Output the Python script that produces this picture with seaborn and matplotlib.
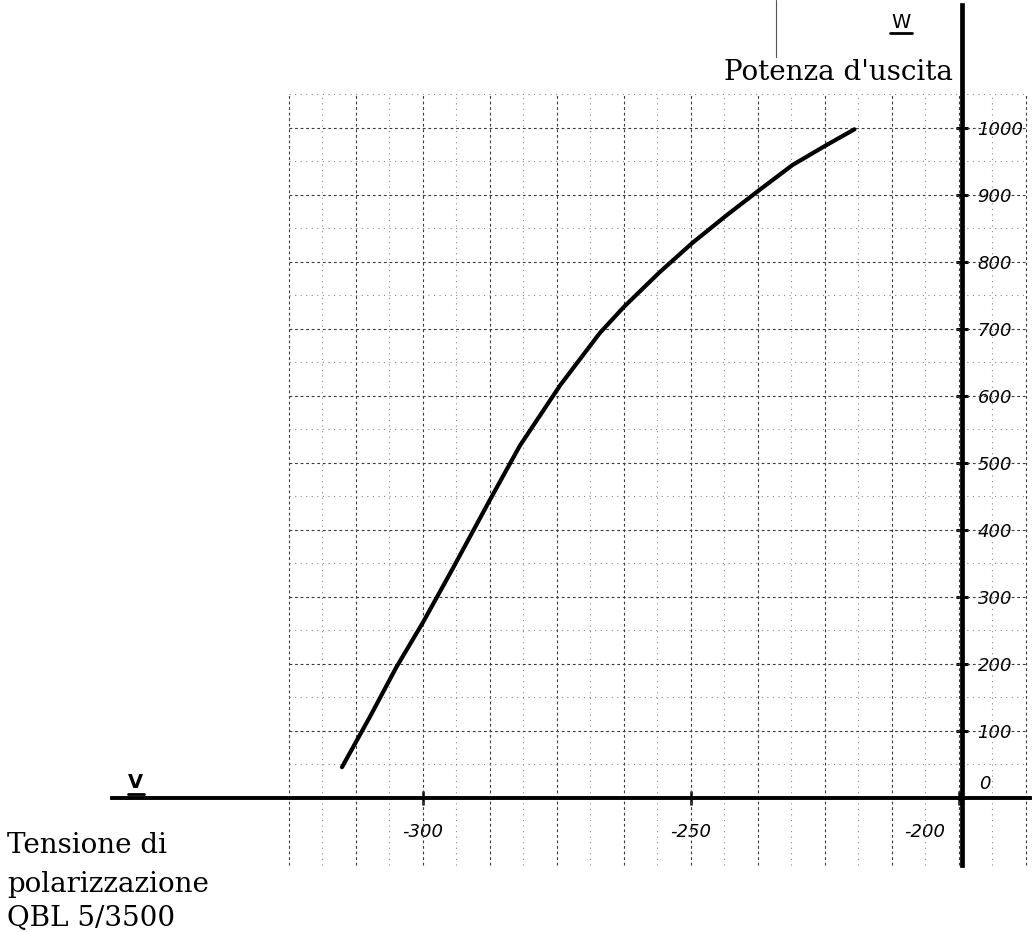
import matplotlib
matplotlib.use("Agg")
import numpy as np
import matplotlib.pyplot as plt
import matplotlib.transforms as mtransforms
from matplotlib.lines import Line2D
import seaborn as sns

# QBL 5/3500: output power vs grid bias
tensione = [-315.1, -309.9, -304.9, -300.0, -294.4, -287.5, -281.9, -274.4,
            -267.0, -262.5, -255.8, -249.8, -243.3, -237.3, -231.0, -224.6, -219.5]
potenza = [46, 121, 196, 262, 343, 445, 526, 616,
           694, 733, 785, 828, 870, 907, 945, 975, 998]

x_ticks = [-300, -250, -200]
x_labels = ['-300', '-250', '-200']
y_ticks = [0, 100, 200, 300, 400, 500, 600, 700, 800, 900, 1000]
y_labels = ['0', '100', '200', '300', '400', '500', '600', '700', '800', '900', '1000']

sns.set_style('white')
plt.rcParams['font.family'] = ['DejaVu Sans']
plt.rcParams['axes.unicode_minus'] = False
plt.rcParams['text.color'] = 'black'

fig = plt.figure(figsize=(10.34, 9.32), dpi=100)
ax = fig.add_axes([0, 0, 1, 1])
ax.set_xlim(-378.9, -186.0)
ax.set_ylim(-200, 1191)

# graph paper grid (12.5 V / 100 W heavy, half steps light)
gx = np.arange(-325, -187.4, 6.25)
gy = np.arange(50, 1051, 50)
gx_major = [v for i, v in enumerate(gx) if i % 2 == 0]
gx_minor = [v for i, v in enumerate(gx) if i % 2 == 1]
gy_major = [v for v in gy if v % 100 == 0]
gy_minor = [v for v in gy if v % 100 != 0]
ax.vlines(gx_major, -100, 1050, colors='#3a3a3a', linestyles=(0, (2.5, 2.5)), lw=0.8, zorder=1)
ax.vlines(gx_minor, -100, 1050, colors='#8a8a8a', linestyles=(0, (1.0, 4.0)), lw=0.8, zorder=1)
ax.hlines(gy_major, -325, -187.5, colors='#3a3a3a', linestyles=(0, (2.5, 2.5)), lw=0.8, zorder=1)
ax.hlines(gy_minor, -325, -187.5, colors='#8a8a8a', linestyles=(0, (1.0, 4.0)), lw=0.8, zorder=1)

# the curve
sns.lineplot(x=tensione, y=potenza, ax=ax, color='black', linewidth=3.0,
             estimator=None, sort=False, zorder=5)
ax.lines[-1].set_solid_capstyle('round')
ax.lines[-1].set_solid_joinstyle('round')

# axes drawn through the origin like on the sheet
for s in ['top', 'left']:
    ax.spines[s].set_visible(False)
ax.spines['bottom'].set_position(('data', 0))
ax.spines['bottom'].set_bounds(-358, -186.8)
ax.spines['bottom'].set_linewidth(2.8)
ax.spines['right'].set_position(('data', -199.5))
ax.spines['right'].set_bounds(-100, 1183)
ax.spines['right'].set_linewidth(3.4)
for s in ['bottom', 'right']:
    ax.spines[s].set_color('black')
    ax.spines[s].set_zorder(6)

ax.yaxis.set_ticks_position('right')
ax.xaxis.set_ticks_position('bottom')
ax.set_xticks(x_ticks, x_labels)
ax.set_yticks(y_ticks, y_labels)
ax.tick_params(axis='y', direction='inout', length=9, width=2.2, pad=7,
               labelsize=13, colors='black')
ax.tick_params(axis='x', direction='inout', length=10, width=1.8, pad=13,
               labelsize=13, colors='black')
ax.tick_params(left=False, labelleft=False, top=False)
ax.set_xlabel('')
ax.set_ylabel('')

for lab in ax.get_xticklabels() + ax.get_yticklabels():
    lab.set_fontstyle('italic')

# small label shifts as on the original drawing
xl = ax.get_xticklabels()
xl[-1].set_transform(xl[-1].get_transform() + mtransforms.ScaledTranslation(-0.34, 0, fig.dpi_scale_trans))
yl = ax.get_yticklabels()
yl[0].set_transform(yl[0].get_transform() + mtransforms.ScaledTranslation(0.02, 0.16, fig.dpi_scale_trans))

# scan artefact line at the top
ax.axvline(-234.1, ymin=0.939, ymax=1.0, color='#555555', lw=0.8)

# texts
serif = 'DejaVu Serif'
fig.text(0.9217, 0.914, "Potenza d'uscita", ha='right', va='baseline', family=serif, fontsize=20, color='black')
fig.text(0.007, 0.0848, 'Tensione di', ha='left', va='baseline', family=serif, fontsize=20, color='black')
fig.text(0.007, 0.0429, 'polarizzazione', ha='left', va='baseline', family=serif, fontsize=20, color='black')
fig.text(0.007, 0.0064, 'QBL 5/3500', ha='left', va='baseline', family=serif, fontsize=20, color='black')

fig.text(0.871, 0.970, 'W', ha='center', va='baseline', fontsize=14, color='black')
fig.add_artist(Line2D([890 / 1034, 912 / 1034], [0.965, 0.965], color='black', lw=2.0))
fig.text(0.131, 0.1545, 'V', ha='center', va='baseline', fontsize=14, fontweight='bold', color='black')
fig.add_artist(Line2D([128 / 1034, 144 / 1034], [0.1486, 0.1486], color='black', lw=2.0))

fig.savefig('out.png', dpi=100)
